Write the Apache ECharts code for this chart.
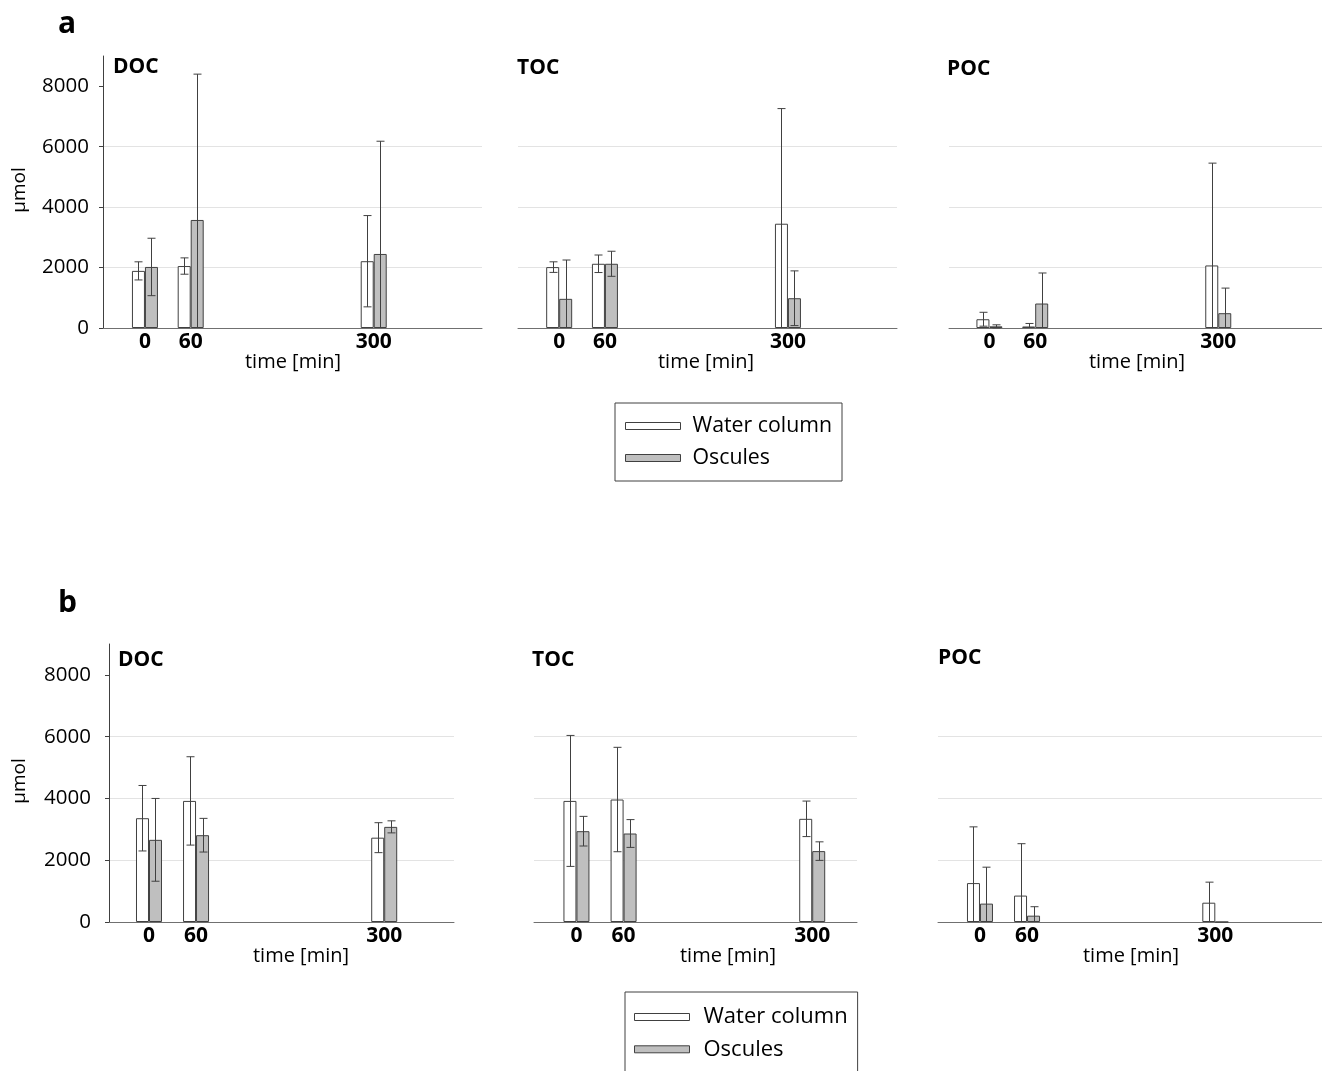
<!DOCTYPE html>
<html><head><meta charset="utf-8">
<script src="https://cdn.jsdelivr.net/npm/echarts@6/dist/echarts.min.js"></script>
<style>html,body{margin:0;padding:0;background:#fff}#c{width:1322px;height:1071px}</style>
</head><body><div id="c"></div><script>
// ---------- data ----------
const times = [0, 60, 300];
const yTickValues = [0, 2000, 4000, 6000, 8000];
const seriesNames = ['Water column', 'Oscules'];
const panelNames = ['DOC', 'TOC', 'POC'];

// Figure a
const aDOC_water = [1890, 2050, 2210];
const aDOC_water_err = [300, 270, 1510];
const aDOC_osc = [2020, 3575, 2450];
const aDOC_osc_err = [950, 4825, 3730];
const aTOC_water = [2015, 2125, 3450];
const aTOC_water_err = [175, 290, 3810];
const aTOC_osc = [965, 2125, 985];
const aTOC_osc_err = [1285, 415, 905];
const aPOC_water = [290, 50, 2070];
const aPOC_water_err = [230, 100, 3385];
const aPOC_osc = [55, 810, 490];
const aPOC_osc_err = [50, 1010, 830];

// Figure b
const bDOC_water = [3360, 3920, 2730];
const bDOC_water_err = [1060, 1430, 485];
const bDOC_osc = [2660, 2810, 3080];
const bDOC_osc_err = [1340, 545, 195];
const bTOC_water = [3920, 3965, 3340];
const bTOC_water_err = [2120, 1690, 575];
const bTOC_osc = [2940, 2865, 2295];
const bTOC_osc_err = [480, 450, 300];
const bPOC_water = [1260, 855, 625];
const bPOC_water_err = [1820, 1680, 665];
const bPOC_osc = [595, 205, 0];
const bPOC_osc_err = [1180, 290, 0];

// ---------- layout ----------
const FONT = '"Open Sans", "Noto Sans", sans-serif';
const panels = [
  {title: panelNames[0], w: aDOC_water, we: aDOC_water_err, o: aDOC_osc, oe: aDOC_osc_err,
   left: 103, width: 379, top: 56, height: 272, xmin: -55, xmax: 442, showY: true, labMargin: 14,
   tx: 113, ty: 67, nx: 293, ny: 362},
  {title: panelNames[1], w: aTOC_water, we: aTOC_water_err, o: aTOC_osc, oe: aTOC_osc_err,
   left: 518, width: 379, top: 56, height: 272, xmin: -54, xmax: 443, showY: false,
   tx: 517, ty: 68, nx: 706, ny: 362},
  {title: panelNames[2], w: aPOC_water, we: aPOC_water_err, o: aPOC_osc, oe: aPOC_osc_err,
   left: 949, width: 373, top: 56, height: 272, xmin: -53, xmax: 436, showY: false,
   tx: 947, ty: 69, nx: 1137, ny: 362},
  {title: panelNames[0], w: bDOC_water, we: bDOC_water_err, o: bDOC_osc, oe: bDOC_osc_err,
   left: 109, width: 345, top: 644, height: 278, xmin: -51, xmax: 389, showY: true, labMargin: 18,
   tx: 118, ty: 660, nx: 301, ny: 956},
  {title: panelNames[1], w: bTOC_water, we: bTOC_water_err, o: bTOC_osc, oe: bTOC_osc_err,
   left: 534, width: 323, top: 644, height: 278, xmin: -54, xmax: 357, showY: false,
   tx: 532, ty: 660, nx: 728, ny: 956},
  {title: panelNames[2], w: bPOC_water, we: bPOC_water_err, o: bPOC_osc, oe: bPOC_osc_err,
   left: 938, width: 384, top: 644, height: 278, xmin: -53.5, xmax: 436, showY: false,
   tx: 938, ty: 658, nx: 1131, ny: 956}
];

const BAR_W = 13;
const grids = [], xAxes = [], yAxes = [], series = [], graphics = [];

function errSeries(i, vals, errs, side) {
  return {
    type: 'custom', xAxisIndex: i, yAxisIndex: i, silent: true, z: 5, animation: false,
    data: times.map((t, k) => [t, vals[k], errs[k]]),
    renderItem: function (params, api) {
      const x = api.value(0), v = api.value(1), e = api.value(2);
      if (!e) return null;
      const hi = api.coord([x, v + e]);
      const lo = api.coord([x, Math.max(0, v - e)]);
      const cx = Math.round(hi[0] + side * BAR_W / 2) + 0.5;
      const st = {stroke: '#404040', lineWidth: 1};
      const ch = [
        {type: 'line', shape: {x1: cx, y1: hi[1], x2: cx, y2: lo[1]}, style: st},
        {type: 'line', shape: {x1: cx - 4, y1: hi[1], x2: cx + 4, y2: hi[1]}, style: st}
      ];
      if (v - e > 0) ch.push({type: 'line', shape: {x1: cx - 4, y1: lo[1], x2: cx + 4, y2: lo[1]}, style: st});
      return {type: 'group', children: ch};
    }
  };
}

panels.forEach((p, i) => {
  grids.push({left: p.left, top: p.top, width: p.width, height: p.height, containLabel: false});
  xAxes.push({
    gridIndex: i, type: 'value', min: p.xmin, max: p.xmax,
    axisLine: {show: true, onZero: false, lineStyle: {color: '#707070', width: 1}},
    axisTick: {show: false},
    splitLine: {show: false},
    axisLabel: {customValues: times, formatter: v => String(v), fontFamily: FONT, fontSize: 21,
                fontWeight: 'bold', color: '#000', margin: 4}
  });
  yAxes.push({
    gridIndex: i, type: 'value', min: 0, max: 9000, interval: 2000,
    axisLine: {show: p.showY, onZero: false, lineStyle: {color: '#404040', width: 1}},
    axisTick: {show: p.showY, customValues: yTickValues, length: 4, lineStyle: {color: '#404040'}},
    axisLabel: {show: p.showY, customValues: yTickValues, formatter: v => String(v), fontFamily: FONT,
                fontSize: 20.5, color: '#000', margin: p.labMargin || 14},
    splitLine: {show: true, showMinLine: false, showMaxLine: false, lineStyle: {color: '#e3e3e3', width: 1}}
  });
  series.push({
    type: 'bar', name: seriesNames[0], xAxisIndex: i, yAxisIndex: i, barWidth: BAR_W, barGap: '0%',
    data: times.map((t, k) => [t, p.w[k]]), animation: false, silent: true,
    itemStyle: {color: '#ffffff', borderColor: '#404040', borderWidth: 1}
  });
  series.push({
    type: 'bar', name: seriesNames[1], xAxisIndex: i, yAxisIndex: i, barWidth: BAR_W, barGap: '0%',
    data: times.map((t, k) => [t, p.o[k]]), animation: false, silent: true,
    itemStyle: {color: '#bfbfbf', borderColor: '#404040', borderWidth: 1}
  });
  series.push(errSeries(i, p.w, p.we, -1));
  series.push(errSeries(i, p.o, p.oe, 1));
  graphics.push({type: 'text', x: p.tx, y: p.ty,
    style: {text: p.title, font: 'bold 21px ' + FONT, fill: '#000', verticalAlign: 'middle'}});
  graphics.push({type: 'text', x: p.nx, y: p.ny,
    style: {text: 'time [min]', font: '20px ' + FONT, fill: '#000', align: 'center', verticalAlign: 'middle'}});
});

graphics.push({type: 'text', x: 58, y: 24, style: {text: 'a', font: 'bold 30px ' + FONT, fill: '#000', verticalAlign: 'middle'}});
graphics.push({type: 'text', x: 58, y: 603, style: {text: 'b', font: 'bold 30px ' + FONT, fill: '#000', verticalAlign: 'middle'}});
graphics.push({type: 'text', x: 20, y: 190, rotation: Math.PI / 2,
  style: {text: 'µmol', font: '19px ' + FONT, fill: '#000', align: 'center', verticalAlign: 'middle'}});
graphics.push({type: 'text', x: 20, y: 781, rotation: Math.PI / 2,
  style: {text: 'µmol', font: '19px ' + FONT, fill: '#000', align: 'center', verticalAlign: 'middle'}});

const legendBase = {
  data: seriesNames, orient: 'vertical', itemWidth: 55, itemHeight: 7, itemGap: 10,
  borderColor: '#404040', borderWidth: 1, selectedMode: false, icon: 'rect',
  itemStyle: {borderColor: '#404040', borderWidth: 1},
  textStyle: {fontFamily: FONT, fontSize: 21.3, color: '#000', lineHeight: 20, padding: [2, 0, 0, 7]}
};
const legends = [
  Object.assign({}, legendBase, {left: 615, top: 403, padding: [12, 10, 12, 10]}),
  Object.assign({}, legendBase, {left: 625, top: 992, height: 120, padding: [14, 10, 12, 9], itemGap: 10.3,
    textStyle: Object.assign({}, legendBase.textStyle, {fontSize: 22, padding: [2, 0, 0, 9]})})
];

const chart = echarts.init(document.getElementById('c'), null, {renderer: 'canvas'});
chart.setOption({
  backgroundColor: '#ffffff',
  animation: false,
  grid: grids, xAxis: xAxes, yAxis: yAxes, series: series,
  legend: legends, graphic: graphics
});
</script></body></html>
